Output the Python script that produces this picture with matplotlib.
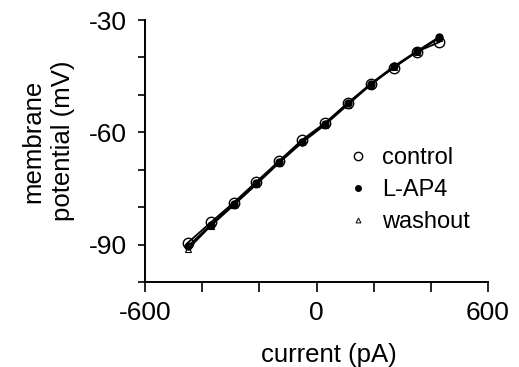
import matplotlib
matplotlib.use("Agg")
import matplotlib.pyplot as plt
from matplotlib.lines import Line2D

plt.rcParams["font.family"] = ["Liberation Sans", "DejaVu Sans"]

# current steps (pA) and membrane potential (mV)
current = [-450, -370, -290, -210, -130, -50, 30, 110, 190, 270, 350, 430]
control = [-89.5, -84.1, -78.8, -73.2, -67.6, -62.0, -57.5, -52.1, -47.1, -42.8, -38.5, -35.9]
lap4 = [-90.5, -84.7, -79.2, -73.6, -67.9, -62.5, -57.8, -52.3, -47.0, -42.4, -38.4, -34.5]
washout = [-91.2, -85.0, -79.5, -73.9, -68.1, -62.7, -58.0, -52.6, -47.3, -42.6, -38.6, -34.8]

x_ticks = [-600, -400, -200, 0, 200, 400, 600]
x_labels = ["-600", "", "", "0", "", "", "600"]
y_ticks = [-100, -90, -80, -70, -60, -50, -40, -30]
y_labels = ["", "-90", "", "", "-60", "", "", "-30"]

fig = plt.figure(figsize=(5.19, 3.67), dpi=100)
ax = fig.add_axes([0.2794, 0.2316, 0.6609, 0.7139])

for ys in (washout, lap4, control):
    ax.plot(current, ys, color="black", lw=1.3, zorder=2)

ax.plot(current, washout, ls="none", marker="^", ms=4, mfc="white", mec="black", mew=0.8, zorder=3)
ax.plot(current, control, ls="none", marker="o", ms=7.5, mfc="none", mec="black", mew=1.0, zorder=4)
ax.plot(current, lap4, ls="none", marker="o", ms=5, mfc="black", mec="black", zorder=5)

ax.set_xlim(-600, 600)
ax.set_ylim(-100, -30)
ax.set_xticks(x_ticks)
ax.set_xticklabels(x_labels)
ax.set_yticks(y_ticks)
ax.set_yticklabels(y_labels)
ax.tick_params(axis="both", direction="out", labelsize=19, width=1.2)
ax.tick_params(axis="x", length=7, pad=7)
ax.tick_params(axis="y", length=5, pad=8)

for side in ("top", "right"):
    ax.spines[side].set_visible(False)
for side in ("left", "bottom"):
    ax.spines[side].set_linewidth(1.4)

ax.set_xlabel("current (pA)", fontsize=18.5)
ax.xaxis.set_label_coords(0.535, -0.232)
ax.set_ylabel("membrane\npotential (mV)", fontsize=18.5, linespacing=1.3)
ax.yaxis.set_label_coords(-0.205, 0.538)

handles = [
    Line2D([], [], ls="none", marker="o", ms=6, mfc="white", mec="black", mew=1.0),
    Line2D([], [], ls="none", marker="o", ms=4, mfc="black", mec="black"),
    Line2D([], [], ls="none", marker="^", ms=3.5, mfc="white", mec="black", mew=0.7),
]
ax.legend(handles, ["control", "L-AP4", "washout"], loc="upper left",
          bbox_to_anchor=(0.567, 0.55), frameon=False, fontsize=17,
          handlelength=0.8, handletextpad=0.6, labelspacing=0.42, borderaxespad=0)

fig.savefig("out.png", dpi=100)
